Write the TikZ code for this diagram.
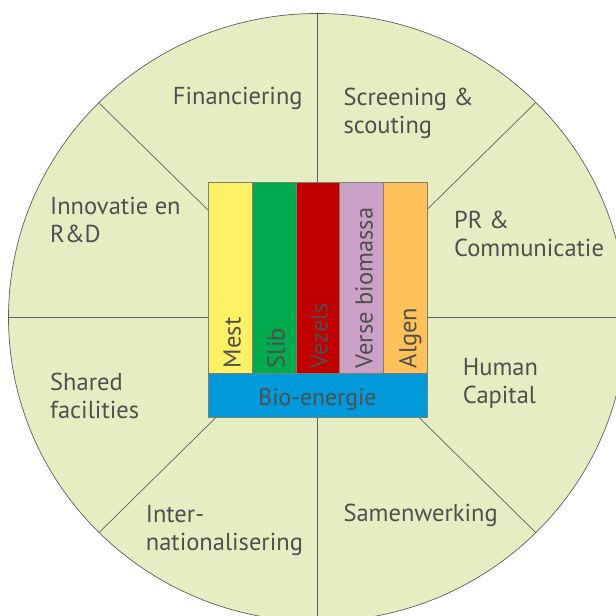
\documentclass[tikz,border=0pt]{standalone}
\usepackage{fontspec}
\setmainfont{PT Sans}
\definecolor{wedge}{HTML}{E5EEC3}
\definecolor{edge}{HTML}{5F5F5F}
\definecolor{boxedge}{HTML}{7F7F6F}
\definecolor{txt}{HTML}{4F4F4F}
\definecolor{cmest}{HTML}{FFF066}
\definecolor{cslib}{HTML}{00AA4E}
\definecolor{cvezels}{HTML}{C00000}
\definecolor{cverse}{HTML}{CCA1C8}
\definecolor{calgen}{HTML}{FFC15A}
\definecolor{cbio}{HTML}{009ADB}
\tikzset{
  outerlabel/.style={anchor=base west, align=left, text=txt, inner sep=0pt,
    font=\fontsize{24.5}{27.8}\selectfont},
  barbox/.style={draw=boxedge, line width=0.8pt, anchor=north west, inner sep=0pt,
    minimum width=43.92pt, minimum height=190.4pt},
  barlabel/.style={rotate=90, anchor=base west, text=txt, inner sep=0pt,
    font=\fontsize{24.5}{30}\selectfont},
  divider/.style={draw=edge, line width=0.7pt}
}
\begin{document}
\begin{tikzpicture}[x=1pt,y=-1pt]
\useasboundingbox (0,0) rectangle (616,616);
\clip (0,0) rectangle (616,616);
\fill[white] (0,0) rectangle (616,616);
% wheel
\coordinate (c) at (317.5,317.5);
\fill[wedge] (c) ellipse [x radius=309pt, y radius=304pt];
\coordinate (pt) at (317.5,13.5);
\coordinate (pb) at (317.5,621.5);
\coordinate (pl) at (8.5,317.5);
\coordinate (pr) at (626.5,317.5);
\coordinate (ptl) at (99.3,103.3);
\coordinate (ptr) at (535.5,102.7);
\coordinate (pbl) at (99.3,532.3);
\coordinate (pbr) at (535.5,532.3);
\foreach \p in {pt,pb,pl,pr,ptl,ptr,pbl,pbr} \draw[divider] (c) -- (\p);
\draw[divider] (c) ellipse [x radius=309pt, y radius=304pt];
% central block
\node[barbox, fill=cmest]   (mest)   at (207.7,182.3) {};
\node[barbox, fill=cslib]   (slib)   at (251.62,182.3) {};
\node[barbox, fill=cvezels] (vezels) at (295.54,182.3) {};
\node[barbox, fill=cverse]  (verse)  at (339.46,182.3) {};
\node[barbox, fill=calgen]  (algen)  at (383.38,182.3) {};
\node[draw=boxedge, line width=0.8pt, fill=cbio, anchor=north west, inner sep=0pt,
  minimum width=219.6pt, minimum height=44pt] (bio) at (207.7,372.7) {};
\node[barlabel] (lmest)   at (240.7,368.3) {Mest};
\node[barlabel] (lslib)   at (284.6,368.3) {Slib};
\node[barlabel] (lvezels) at (327.5,368.3) {Vezels};
\node[barlabel] (lverse)  at (372.7,368.3) {Verse biomassa};
\node[barlabel] (lalgen)  at (416.3,368.3) {Algen};
\node[anchor=base, text=txt, inner sep=0pt, font=\fontsize{23.8}{27}\selectfont] (lbio) at (317.5,405) {Bio-energie};
% outer labels (anchor = baseline of last line)
\node[outerlabel] (fin) at (172.7,104) {Financiering};
\node[outerlabel] (scr) at (343.3,133.3) {Screening \&\\scouting};
\node[outerlabel] (inn) at (50,242) {Innovatie en\\R\&D};
\node[outerlabel] (pr)  at (454,256) {PR \&\\Communicatie};
\node[outerlabel] (sha) at (50,418.7) {Shared\\facilities};
\node[outerlabel] (hum) at (462.7,403.3) {Human\\Capital};
\node[outerlabel] (int) at (145.7,550.7) {Inter-\\nationalisering};
\node[outerlabel] (sam) at (343.3,521.7) {Samenwerking};
\end{tikzpicture}
\end{document}
